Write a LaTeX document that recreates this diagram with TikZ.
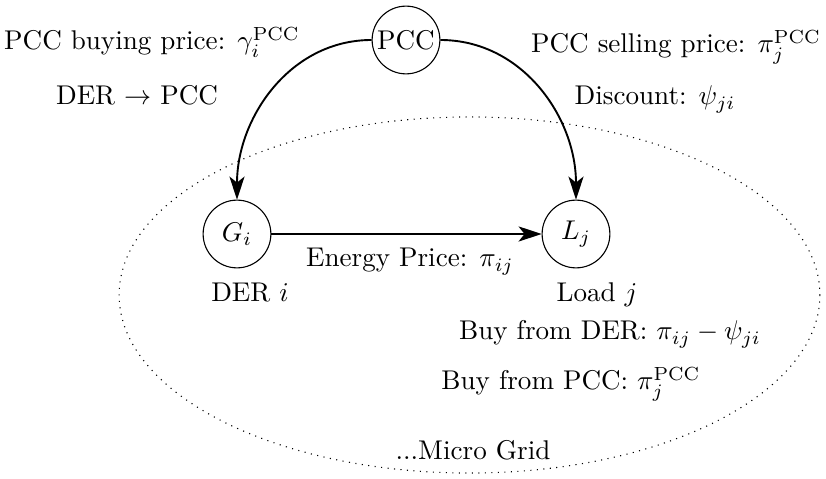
\documentclass[tikz,border=0pt]{standalone}
\usepackage{amsmath}
\usepackage{amssymb}
\usetikzlibrary{arrows.meta}

\tikzset{
  circ/.style={draw, circle, inner sep=0.5pt, minimum size=25pt},
  flow/.style={line width=0.7pt, -{Stealth[length=8.5pt,width=5.6pt,inset=2.2pt]}},
  lbl/.style={anchor=base, inner sep=0pt},
}

\begin{document}
\begin{tikzpicture}[x=0.369pt,y=0.369pt,yscale=-1,xscale=1]
\useasboundingbox (0,0) rectangle (826,479);

%Shape: Ellipse [micro grid]
\draw [dotted] (469.5,295) ellipse [x radius=129.3pt, y radius=65.7pt];

%Shape: Circle [PCC]
\node [circ] (pcc) at (406,40) {PCC};
%Shape: Circle [DER]
\node [circ] (gen) at (237,234) {$G_i$};
%Shape: Circle [load]
\node [circ] (load) at (576,234) {$L_j$};

%Curve Lines
\draw [flow] (pcc.west) to [out=180,in=-90] (gen.north);
\draw [flow] (pcc.east) to [out=0,in=-90] (load.north);
%Straight Lines
\draw [flow] (gen) -- (load);

% Text Node
\node [lbl] (buyprice) at (152,50) {PCC buying price: $\gamma_i^{\text{PCC}}$};
% Text Node
\node [lbl] (dertopcc) at (137,105) {DER $\rightarrow$ PCC};
% Text Node
\node [lbl] (sellprice) at (676,53) {PCC selling price: $\pi_j^{\text{PCC}}$};
% Text Node
\node [lbl] (discount) at (655,105) {Discount: $\psi_{ji}$};
% Text Node
\node [lbl] (energy) at (410,267) {Energy Price: $\pi_{ij}$};
% Text Node
\node [lbl] (derlabel) at (250,302) {DER $i$};
% Text Node
\node [lbl] (loadlabel) at (597,302) {Load $j$};
% Text Node
\node [lbl] (buyder) at (610,340) {Buy from DER: $\pi_{ij}-\psi_{ji}$};
% Text Node
\node [lbl] (buypcc) at (571,390) {Buy from PCC: $\pi_j^{\text{PCC}}$};
% Text Node
\node [lbl] (microgrid) at (473,460) {...Micro Grid};

\end{tikzpicture}
\end{document}
